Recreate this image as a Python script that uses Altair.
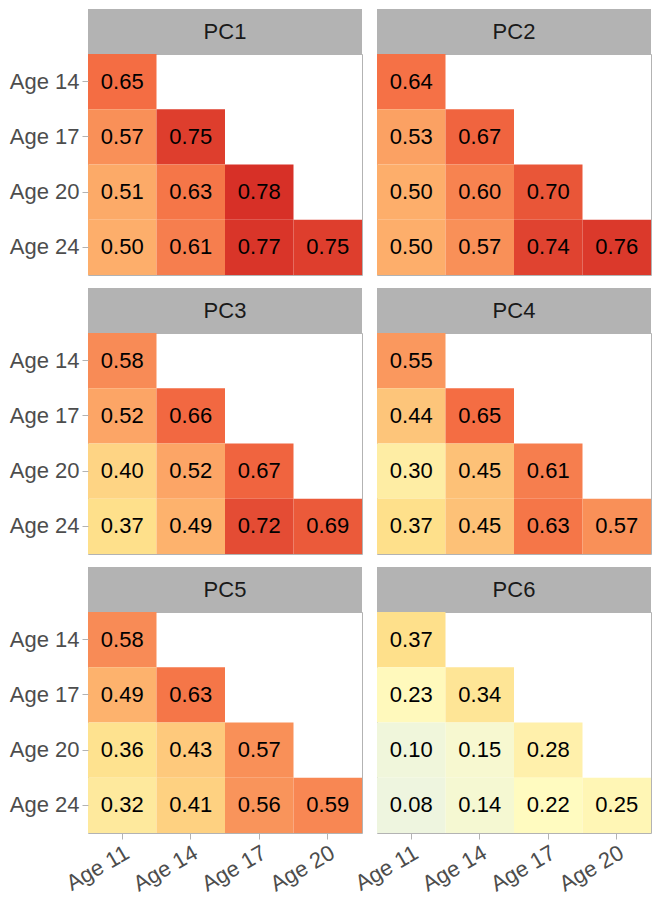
import altair as alt
import pandas as pd

FONT = "Liberation Sans"

pcs = ["PC1", "PC2", "PC3", "PC4", "PC5", "PC6"]
row_ages = ["Age 14", "Age 17", "Age 20", "Age 24"]
col_ages = ["Age 11", "Age 14", "Age 17", "Age 20"]

pc1 = [[0.65], [0.57, 0.75], [0.51, 0.63, 0.78], [0.50, 0.61, 0.77, 0.75]]
pc2 = [[0.64], [0.53, 0.67], [0.50, 0.60, 0.70], [0.50, 0.57, 0.74, 0.76]]
pc3 = [[0.58], [0.52, 0.66], [0.40, 0.52, 0.67], [0.37, 0.49, 0.72, 0.69]]
pc4 = [[0.55], [0.44, 0.65], [0.30, 0.45, 0.61], [0.37, 0.45, 0.63, 0.57]]
pc5 = [[0.58], [0.49, 0.63], [0.36, 0.43, 0.57], [0.32, 0.41, 0.56, 0.59]]
pc6 = [[0.37], [0.23, 0.34], [0.10, 0.15, 0.28], [0.08, 0.14, 0.22, 0.25]]
all_vals = [pc1, pc2, pc3, pc4, pc5, pc6]

color_domain = [0.08, 0.22, 0.37, 0.50, 0.65, 0.78]
color_range = ["#eef5df", "#fffbc0", "#fee08b", "#fdae6b", "#f46d43", "#d73027"]

records = []
for pc, vals in zip(pcs, all_vals):
    for i, rowvals in enumerate(vals):
        for j, v in enumerate(rowvals):
            records.append({"pc": pc, "row": row_ages[i], "col": col_ages[j], "value": v})
df = pd.DataFrame(records)

W, H, HEAD = 274, 221, 45


def panel(idx):
    pc = pcs[idx]
    left = idx % 2 == 0
    bottom = idx >= 4
    d = df[df.pc == pc]
    if bottom:
        xaxis = alt.Axis(labelAngle=-30, labelFontSize=22, labelFont=FONT, labelColor="#4d4d4d",
                         tickColor="#b3b3b3", tickSize=6, labelPadding=3, domain=False, title=None)
    else:
        xaxis = None
    if left:
        yaxis = alt.Axis(labelFontSize=22, labelFont=FONT, labelColor="#4d4d4d",
                         tickColor="#b3b3b3", tickSize=6, labelPadding=3, domain=False, title=None)
    else:
        yaxis = None
    base = alt.Chart(d).encode(
        x=alt.X("col:N", sort=col_ages,
                scale=alt.Scale(domain=col_ages, paddingInner=0, paddingOuter=0), axis=xaxis),
        y=alt.Y("row:N", sort=row_ages,
                scale=alt.Scale(domain=row_ages, paddingInner=0, paddingOuter=0), axis=yaxis),
    )
    rect = base.mark_rect().encode(
        color=alt.Color("value:Q",
                        scale=alt.Scale(domain=color_domain, range=color_range, interpolate="rgb"),
                        legend=None)
    )
    txt = base.mark_text(fontSize=22, font=FONT, color="black").encode(
        text=alt.Text("value:Q", format=".2f")
    )
    hd = pd.DataFrame({"pc": [pc]})
    head_rect = alt.Chart(hd).mark_rect(color="#b3b3b3").encode(
        x=alt.value(0), x2=alt.value(W), y=alt.value(-HEAD), y2=alt.value(0)
    )
    head_txt = alt.Chart(hd).mark_text(fontSize=22, font=FONT, color="#1a1a1a").encode(
        x=alt.value(W / 2), y=alt.value(-HEAD / 2), text="pc:N"
    )
    return alt.layer(head_rect, head_txt, rect, txt).properties(width=W, height=H)


rows = [alt.hconcat(panel(2 * r), panel(2 * r + 1), spacing=15, bounds="flush") for r in range(3)]
chart = alt.vconcat(*rows, spacing=11).properties(padding=0, background="white").configure_view(
    stroke="#b3b3b3", strokeWidth=1
)

chart.save("out.html", embed_options={"renderer": "svg", "actions": False})
